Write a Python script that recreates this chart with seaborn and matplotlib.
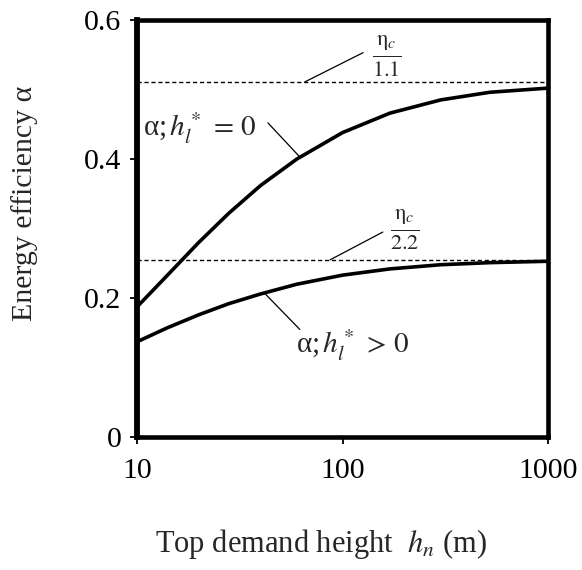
import matplotlib
matplotlib.use("Agg")
import matplotlib.pyplot as plt
import seaborn as sns
import pandas as pd
from matplotlib.ticker import NullLocator

# data
h = [10, 14, 20, 28, 40, 60, 100, 170, 300, 520, 1000]
alpha_zero = [0.187, 0.232, 0.280, 0.322, 0.362, 0.400, 0.438, 0.466, 0.485, 0.496, 0.502]
alpha_pos = [0.137, 0.157, 0.176, 0.192, 0.206, 0.220, 0.233, 0.242, 0.248, 0.251, 0.253]
eta_lines = [0.511, 0.255]
x_ticks = [10, 100, 1000]
y_ticks = [0, 0.2, 0.4, 0.6]
y_ticklabels = ["0", "0.2", "0.4", "0.6"]

sns.set_style("ticks")
plt.rcParams["font.family"] = ["Liberation Serif", "DejaVu Serif"]
plt.rcParams["mathtext.fontset"] = "stix"

df = pd.DataFrame({"h": h, "a0": alpha_zero, "a1": alpha_pos})

fig = plt.figure(figsize=(5.82, 5.70), dpi=100)
ax = fig.add_axes([0.235, 0.233, 0.707, 0.732])

sns.lineplot(data=df, x="h", y="a0", color="black", linewidth=2.6, ax=ax)
sns.lineplot(data=df, x="h", y="a1", color="black", linewidth=2.6, ax=ax)
for v in eta_lines:
    ax.axhline(v, color="black", linewidth=1.0, linestyle=(0, (3, 2)))

ax.set_xscale("log")
ax.set_xlim(10, 1000)
ax.set_ylim(0, 0.6)
ax.set_xticks(x_ticks)
ax.set_xticklabels([str(t) for t in x_ticks])
ax.xaxis.set_minor_locator(NullLocator())
ax.set_yticks(y_ticks)
ax.set_yticklabels(y_ticklabels)
ax.tick_params(axis="both", direction="out", length=5, width=1.3, labelsize=21.5, colors="black")
ax.tick_params(axis="x", pad=10)
ax.tick_params(axis="y", pad=6)

for name, s in ax.spines.items():
    s.set_visible(True)
    s.set_linewidth(4.2 if name == "left" else 3.3)
    s.set_color("black")

ax.set_xlabel(r"Top demand height  $h_n$ (m)", fontsize=22)
ax.xaxis.set_label_coords(0.448, -0.215)
ax.set_ylabel("Energy efficiency α", fontsize=21.5)
ax.yaxis.set_label_coords(-0.24, 0.56)

# annotations
line_kw = dict(arrowstyle="-", color="black", linewidth=0.9, shrinkA=0, shrinkB=0)
ax.annotate("", xy=(65.7, 0.511), xytext=(126, 0.553), arrowprops=line_kw)
ax.text(165, 0.548, r"$\frac{\mathrm{\eta}_c}{1.1}$", fontsize=23, ha="center", va="center")
ax.annotate("", xy=(87, 0.255), xytext=(157, 0.295), arrowprops=line_kw)
ax.text(201, 0.298, r"$\frac{\mathrm{\eta}_c}{2.2}$", fontsize=23, ha="center", va="center")

ax.annotate("", xy=(62, 0.403), xytext=(43.4, 0.452), arrowprops=line_kw)
ax.text(20.3, 0.445, r"α;$\,h_l^*\,=\,0$", fontsize=21, ha="center", va="center")
ax.annotate("", xy=(41.5, 0.208), xytext=(62, 0.155), arrowprops=line_kw)
ax.text(112, 0.132, r"α;$\,h_l^*\,>\,0$", fontsize=21, ha="center", va="center")

fig.savefig("out.png", dpi=100)
